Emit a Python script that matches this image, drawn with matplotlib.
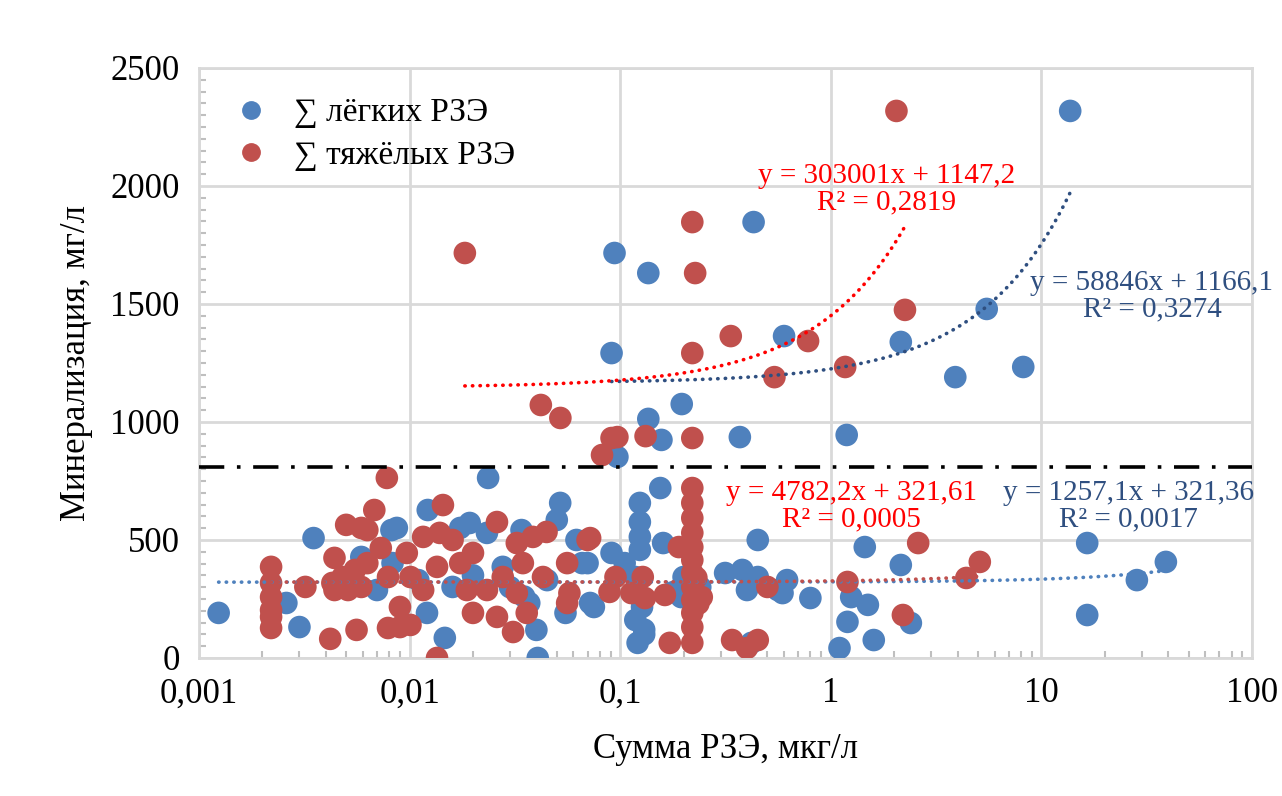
import numpy as np
import matplotlib
matplotlib.use("Agg")
import matplotlib.pyplot as plt
from matplotlib.lines import Line2D

plt.rcParams['font.family'] = ['Liberation Serif', 'DejaVu Serif']

# --- data (x: сумма РЗЭ, мкг/л; y: минерализация, мг/л) ---
# light REE, mineralization above the 810 mg/l threshold
light_hi_x = [0.094, 0.43, 13.7, 0.136, 0.60, 0.091, 0.196, 0.136, 0.157, 0.097,
              0.37, 1.19, 2.15, 5.5, 3.9, 8.2]
light_hi_y = [1716, 1847, 2318, 1631, 1364, 1292, 1076, 1013, 924, 852,
              936, 945, 1339, 1479, 1190, 1233]

# heavy REE, above threshold
heavy_hi_x = [0.0183, 2.05, 0.22, 0.227, 2.25, 0.335, 0.22, 0.78, 0.54, 1.17,
              0.042, 0.052, 0.091, 0.097, 0.132, 0.22, 0.082]
heavy_hi_y = [1716, 2318, 1847, 1631, 1475, 1364, 1292, 1343, 1190, 1233,
              1072, 1017, 932, 936, 940, 932, 860]

# light REE, below threshold
light_lo_x = [0.00124, 0.0035, 0.0026, 0.0030, 0.0059, 0.0070, 0.0082, 0.0083,
              0.0236, 0.0122, 0.0519, 0.050, 0.0087, 0.0193, 0.0174, 0.0233, 0.034,
              0.062, 0.0147, 0.0406, 0.040, 0.0121, 0.016, 0.055, 0.072, 0.037,
              0.0277, 0.066, 0.011, 0.020, 0.030, 0.045, 0.035,
              0.155, 0.124, 0.124, 0.124, 0.124, 0.16, 0.091, 0.105, 0.070, 0.075,
              0.118, 0.118, 0.121, 0.127, 0.195, 0.20, 0.315, 0.38, 0.40, 0.45,
              0.56, 0.45, 0.42, 0.24, 0.18, 0.13, 0.13,
              0.62, 0.59, 0.80, 1.45, 2.15, 1.25, 1.5, 1.2, 1.1, 1.6, 2.4,
              16.5, 16.5, 28.4, 39.0]
light_lo_y = [191, 508, 233, 131, 428, 288, 542, 402,
              763, 627, 657, 585, 551, 572, 551, 530, 542,
              500, 85, 0, 119, 191, 301, 191, 233, 233,
              386, 402, 330, 350, 300, 330, 260,
              720, 657, 576, 513, 458, 487, 445, 402, 402, 216,
              343, 161, 64, 216, 258, 343, 360, 373, 288, 343,
              288, 500, 64, 300, 280, 120, 100,
              330, 275, 254, 470, 394, 258, 225, 153, 42, 76, 148,
              487, 182, 330, 407]

# heavy REE, below threshold
heavy_lo_x = [0.0022, 0.0022, 0.0022, 0.0022, 0.0022, 0.0022,
              0.0032, 0.0042, 0.0044, 0.0056, 0.0050, 0.0059, 0.0063, 0.0068,
              0.0078, 0.0073, 0.0063, 0.0055, 0.0048, 0.0043, 0.0044, 0.0051,
              0.0059, 0.0079, 0.0079,
              0.0144, 0.026, 0.0116, 0.0139, 0.016, 0.0323, 0.0385, 0.0447, 0.070,
              0.0097, 0.020, 0.0135, 0.0174, 0.0345, 0.056, 0.0101, 0.0277, 0.043,
              0.0116, 0.0187, 0.0233, 0.0323, 0.0574, 0.009, 0.020, 0.026, 0.036,
              0.056, 0.0101, 0.031, 0.0135, 0.009,
              0.22, 0.22, 0.22, 0.22, 0.22, 0.22, 0.22, 0.22, 0.22, 0.22, 0.22, 0.22,
              0.19, 0.244, 0.095, 0.089, 0.113, 0.131, 0.128, 0.163, 0.172, 0.34,
              0.40, 0.45, 0.50, 0.072, 0.23, 0.235,
              1.2, 2.2, 2.6, 4.4, 5.1]
heavy_lo_y = [386, 318, 258, 203, 174, 127,
              301, 81, 424, 119, 564, 551, 542, 627,
              763, 466, 402, 373, 343, 318, 288, 288,
              301, 343, 127,
              648, 576, 513, 530, 500, 487, 513, 534, 500,
              445, 445, 386, 402, 402, 402, 343, 343, 343,
              288, 288, 288, 275, 275, 216, 191, 174, 191,
              233, 140, 110, 0, 131,
              720, 657, 593, 530, 470, 415, 360, 301, 246, 191, 131, 64,
              470, 258, 343, 280, 275, 254, 343, 267, 64, 76,
              42, 76, 301, 508, 340, 230,
              322, 182, 487, 339, 407]

# trend lines as shown on the chart (Excel fit, x in mg/l)
trend_light_hi = (58846, 1166.1, "y = 58846x + 1166,1\nR² = 0,3274")
trend_heavy_hi = (303001, 1147.2, "y = 303001x + 1147,2\nR² = 0,2819")
trend_light_lo = (1257.1, 321.36, "y = 1257,1x + 321,36\nR² = 0,0017")
trend_heavy_lo = (4782.2, 321.61, "y = 4782,2x + 321,61\nR² = 0,0005")
threshold = 810

xticks = [0.001, 0.01, 0.1, 1, 10, 100]
xtick_labels = ["0,001", "0,01", "0,1", "1", "10", "100"]
yticks = [0, 500, 1000, 1500, 2000, 2500]

blue = "#4F81BD"
red = "#C0504D"

fig = plt.figure(figsize=(12.82, 7.96), dpi=100)
ax = fig.add_axes([0.1552, 0.1734, 0.8214, 0.7412])

ms = 265
ax.scatter(light_hi_x + light_lo_x, light_hi_y + light_lo_y, s=ms, color=blue,
           edgecolors='none', zorder=3)
ax.scatter(heavy_hi_x + heavy_lo_x, heavy_hi_y + heavy_lo_y, s=ms, color=red,
           edgecolors='none', zorder=4)


def trend(xs, coef, color):
    a, b, _ = coef
    xx = np.logspace(np.log10(min(xs)), np.log10(max(xs)), 200)
    ax.plot(xx, a * xx / 1000 + b, color=color, lw=2.6,
            linestyle=(0, (0.1, 2.0)), dash_capstyle='round', zorder=5)


trend(light_lo_x, trend_light_lo, "#4F81BD")
trend(heavy_lo_x, trend_heavy_lo, "#C0504D")
trend(light_hi_x, trend_light_hi, "#2F4F80")
trend(heavy_hi_x, trend_heavy_hi, "#FF0000")

ax.axhline(threshold, color='black', lw=2.6, linestyle=(0, (7, 3.5, 1, 3.5)), zorder=6)

eq_kw = dict(ha='center', va='center', fontsize=21, linespacing=1.0, zorder=7)
ax.text(1.85, 1987, trend_heavy_hi[2], color="#FF0000", **eq_kw)
ax.text(33.5, 1534, trend_light_hi[2], color="#2F4F80", **eq_kw)
ax.text(1.25, 644, trend_heavy_lo[2], color="#FF0000", **eq_kw)
ax.text(25.8, 644, trend_light_lo[2], color="#2F4F80", **eq_kw)

ax.set_xscale('log')
ax.set_xlim(0.001, 100)
ax.set_ylim(0, 2500)
ax.set_xticks(xticks)
ax.set_xticklabels(xtick_labels)
ax.set_yticks(yticks)
ax.yaxis.set_minor_locator(matplotlib.ticker.MultipleLocator(50))
ax.xaxis.set_minor_locator(matplotlib.ticker.LogLocator(base=10, subs=np.arange(2, 10)))
ax.xaxis.set_minor_formatter(matplotlib.ticker.NullFormatter())

ax.grid(True, which='major', color='#D9D9D9', lw=2)
ax.set_axisbelow(True)
for sp in ax.spines.values():
    sp.set_color('#D9D9D9')
    sp.set_linewidth(2)
ax.tick_params(which='both', direction='in', color='#BFBFBF', labelsize=25, pad=14)
ax.tick_params(which='major', length=0)
ax.tick_params(which='minor', length=5, width=1.5)

ax.set_xlabel("Сумма РЗЭ, мкг/л", fontsize=25, labelpad=16)
ax.set_ylabel("Минерализация, мг/л", fontsize=25, labelpad=12)

handles = [Line2D([], [], marker='o', ls='none', color=blue, markersize=12.5),
           Line2D([], [], marker='o', ls='none', color=red, markersize=12.5)]
ax.legend(handles, ["∑ лёгких РЗЭ", "∑ тяжёлых РЗЭ"], loc='upper left',
          bbox_to_anchor=(0.005, 1.0), frameon=False, fontsize=24,
          handlelength=1.0, handletextpad=0.8, labelspacing=0.35)

fig.savefig("out.png", dpi=100, facecolor='white')
